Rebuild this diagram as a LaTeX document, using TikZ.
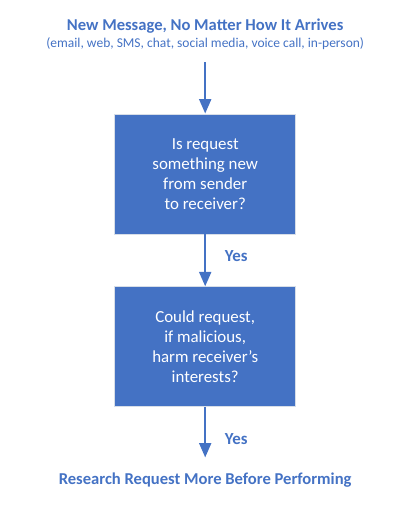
\documentclass[tikz,border=0pt]{standalone}
\usepackage{fontspec}
\setmainfont{Carlito}
\usetikzlibrary{arrows.meta, positioning}
\definecolor{msgblue}{RGB}{68,114,196}
\definecolor{boxedge}{RGB}{215,222,232}

\begin{document}
\begin{tikzpicture}[
  qbox/.style={rectangle, draw=boxedge, line width=0.7pt, fill=msgblue,
    text=white, minimum width=4.52cm, minimum height=3.0cm,
    align=center, font=\fontsize{12}{14.2}\selectfont},
  head/.style={text=msgblue, font=\fontsize{11.8}{13}\selectfont\bfseries},
  sub/.style={text=msgblue, font=\fontsize{9.6}{11}\selectfont},
  yes/.style={text=msgblue, font=\fontsize{12}{13}\selectfont\bfseries},
  arr/.style={-{Triangle[length=3.6mm,width=3mm]}, msgblue, line width=1.4pt}
]
  \useasboundingbox (0,0) rectangle (10,-12.85);
  \node[head] (title)    at (5.13,-0.64)  {New Message, No Matter How It Arrives};
  \node[sub]  (channels) at (5.13,-1.08)  {(email, web, SMS, chat, social media, voice call, in-person)};
  \node[qbox] (q1)       at (5.13,-4.35)  {Is request\\something new\\from sender\\to receiver?};
  \node[qbox] (q2)       at (5.13,-8.67)  {Could request,\\if malicious,\\harm receiver’s\\interests?};
  \node[head] (research) at (5.13,-11.99) {Research Request More Before Performing};
  \draw[arr, shorten <=0.2cm] (channels) -- (q1);
  \draw[arr] (q1) -- node[yes, right=0.35cm, yshift=0.1cm] {Yes} (q2);
  \draw[arr, shorten >=0.25cm] (q2) -- node[yes, right=0.35cm, yshift=-0.05cm] {Yes} (research);
\end{tikzpicture}
\end{document}
